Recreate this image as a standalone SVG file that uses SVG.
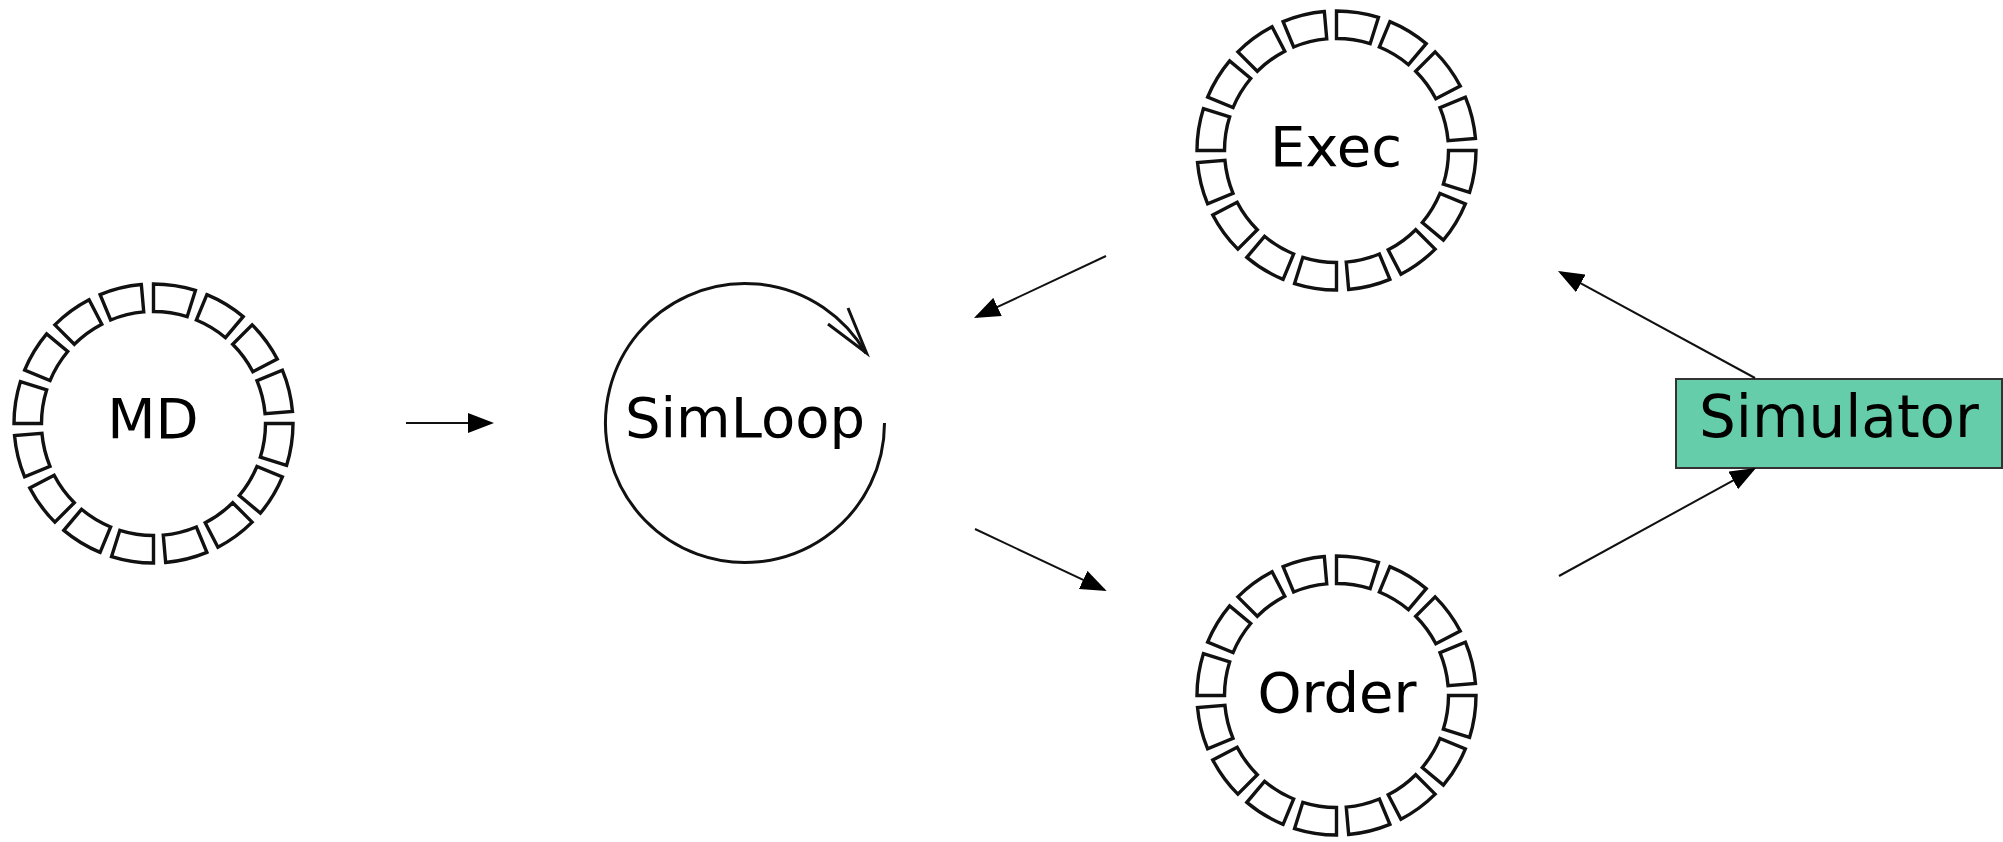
<svg xmlns="http://www.w3.org/2000/svg" xmlns:xlink="http://www.w3.org/1999/xlink" width="2003" height="842" viewBox="0 0 2003 842">
  <style>
    .seg { fill: none; stroke: #111; stroke-width: 3.4; stroke-linejoin: miter; }
    .label { font-family: "DejaVu Sans", "Liberation Sans", sans-serif; font-size: 56px; fill: #000; text-anchor: middle; }
    .loop { fill: none; stroke: #111; stroke-width: 3; }
    .edge { fill: none; stroke: #111; stroke-width: 2; marker-end: url(#head); }
    .box { fill: #66cdaa; stroke: #333; stroke-width: 2; }
  </style>
  <defs>
    <marker id="head" markerUnits="userSpaceOnUse" markerWidth="26" markerHeight="20" refX="23" refY="10" orient="auto">
      <path d="M0,0 L26,10 L0,20 Z" fill="#000"/>
    </marker>
    <!-- one cell of the buffer ring: annular sector spanning 17.5 of its 22.5 degree slot -->
    <path id="cell" class="seg" d="M139.5,0 A139.5,139.5 0 0 1 133.044,41.949 L106.816,33.679 A112,112 0 0 0 112,0 Z"/>
    <g id="ring">
      <use xlink:href="#cell"/>
      <use xlink:href="#cell" transform="rotate(22.5)"/>
      <use xlink:href="#cell" transform="rotate(45)"/>
      <use xlink:href="#cell" transform="rotate(67.5)"/>
      <use xlink:href="#cell" transform="rotate(90)"/>
      <use xlink:href="#cell" transform="rotate(112.5)"/>
      <use xlink:href="#cell" transform="rotate(135)"/>
      <use xlink:href="#cell" transform="rotate(157.5)"/>
      <use xlink:href="#cell" transform="rotate(180)"/>
      <use xlink:href="#cell" transform="rotate(202.5)"/>
      <use xlink:href="#cell" transform="rotate(225)"/>
      <use xlink:href="#cell" transform="rotate(247.5)"/>
      <use xlink:href="#cell" transform="rotate(270)"/>
      <use xlink:href="#cell" transform="rotate(292.5)"/>
      <use xlink:href="#cell" transform="rotate(315)"/>
      <use xlink:href="#cell" transform="rotate(337.5)"/>
    </g>
  </defs>

  <rect x="0" y="0" width="2003" height="842" fill="#fff"/>

  <g id="md">
    <use xlink:href="#ring" transform="translate(153.5,423.5)"/>
    <text class="label" x="153" y="438">MD</text>
  </g>

  <g id="simloop">
    <path class="loop" d="M884.5,423 A139.5,139.5 0 1 1 865.8,353.25"/>
    <path class="loop" d="M848,308 L866.5,353 L828,324"/>
    <text class="label" x="745" y="437">SimLoop</text>
  </g>

  <g id="exec">
    <use xlink:href="#ring" transform="translate(1336.5,150.5)"/>
    <text class="label" x="1336" y="166">Exec</text>
  </g>

  <g id="order">
    <use xlink:href="#ring" transform="translate(1336.5,695.5)"/>
    <text class="label" x="1337" y="712">Order</text>
  </g>

  <g id="simulator">
    <rect class="box" x="1676" y="379" width="326" height="89"/>
    <text class="label" x="1839" y="437" style="font-size:58px">Simulator</text>
  </g>

  <g id="connectors">
    <line class="edge" x1="406" y1="423" x2="491" y2="423"/>
    <line class="edge" x1="1106" y1="256" x2="976.7" y2="316.7"/>
    <line class="edge" x1="975" y1="529" x2="1104" y2="589.7"/>
    <line class="edge" x1="1755" y1="378" x2="1560.6" y2="272.4"/>
    <line class="edge" x1="1559" y1="576" x2="1753.4" y2="469.4"/>
  </g>
</svg>
